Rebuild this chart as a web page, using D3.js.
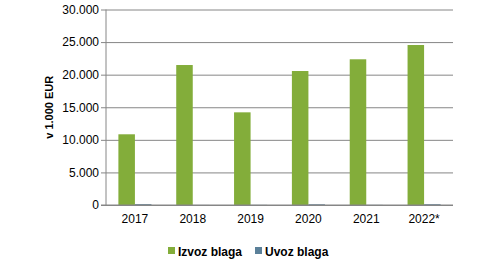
<!DOCTYPE html>
<html>
<head>
<meta charset="utf-8"/>
<script src="https://cdnjs.cloudflare.com/ajax/libs/d3/7.8.5/d3.min.js"></script>
<style>
  body { margin: 0; background: #fff; }
  text { font-family: "Liberation Sans", Arial, sans-serif; }
</style>
</head>
<body>
<script>
const years = ["2017", "2018", "2019", "2020", "2021", "2022*"];
const izvoz = [10850, 21480, 14220, 20560, 22360, 24550];
const uvoz = [130, 10, 20, 110, 20, 120];
const seriesNames = ["Izvoz blaga", "Uvoz blaga"];
const yTicks = [0, 5000, 10000, 15000, 20000, 25000, 30000];

const width = 492, height = 270;
const margin = {top: 9.5, right: 39, bottom: 65, left: 106};
const colors = ["#83ad3a", "#5b8099"];

const svg = d3.select("body").append("svg")
  .attr("width", width).attr("height", height);

const x = d3.scaleBand().domain(years)
  .range([margin.left, width - margin.right]).padding(0);
const x1 = d3.scaleBand().domain(seriesNames)
  .range([0, x.bandwidth()]).paddingInner(0).paddingOuter(0.75);
const y = d3.scaleLinear().domain([0, 30000])
  .range([height - margin.bottom, margin.top]);

const fmt = v => d3.format(",")(v).replace(/,/g, ".");

// gridlines + y axis
svg.append("g")
  .attr("transform", `translate(${margin.left},0)`)
  .call(d3.axisLeft(y).tickValues(yTicks).tickFormat(fmt)
    .tickSize(-(width - margin.left - margin.right)).tickPadding(7))
  .call(g => g.select(".domain").remove())
  .call(g => g.selectAll(".tick line").attr("stroke", "#868686").attr("x1", -5))
  .call(g => g.selectAll(".tick text").attr("font-size", 12).attr("fill", "#000"));

svg.append("line")
  .attr("x1", margin.left).attr("x2", margin.left)
  .attr("y1", margin.top).attr("y2", height - margin.bottom)
  .attr("stroke", "#868686");

const rows = years.map((yr, i) => ({year: yr, vals: [izvoz[i], uvoz[i]]}));

svg.append("g").selectAll("g")
  .data(rows).join("g")
  .attr("transform", d => `translate(${x(d.year)},0)`)
  .selectAll("rect")
  .data(d => d.vals.map((v, j) => ({key: seriesNames[j], v, j})))
  .join("rect")
  .attr("x", d => x1(d.key))
  .attr("width", x1.bandwidth())
  .attr("y", d => y(d.v))
  .attr("height", d => y(0) - y(d.v))
  .attr("fill", d => colors[d.j]);

// x axis
svg.append("g")
  .attr("transform", `translate(0,${height - margin.bottom})`)
  .call(d3.axisBottom(x).tickSize(0).tickPadding(9))
  .call(g => g.select(".domain").attr("stroke", "#868686").attr("d", `M${margin.left - 5},0H${width - margin.right}`))
  .call(g => g.selectAll(".tick text").attr("font-size", 12).attr("fill", "#000"));

// axis title
svg.append("text")
  .attr("transform", `translate(53,${(margin.top + height - margin.bottom) / 2}) rotate(-90)`)
  .attr("text-anchor", "middle")
  .attr("font-size", 11).attr("font-weight", "bold")
  .text("v 1.000 EUR");

// legend
const legendX = [168, 255];
const leg = svg.append("g").selectAll("g")
  .data(seriesNames).join("g")
  .attr("transform", (d, i) => `translate(${legendX[i]},251)`);
leg.append("rect").attr("x", 0).attr("y", -4).attr("width", 7).attr("height", 7)
  .attr("fill", (d, i) => colors[i]);
leg.append("text").attr("x", 10).attr("y", 4.5)
  .attr("font-size", 12).attr("font-weight", "bold")
  .text(d => d);
</script>
</body>
</html>
